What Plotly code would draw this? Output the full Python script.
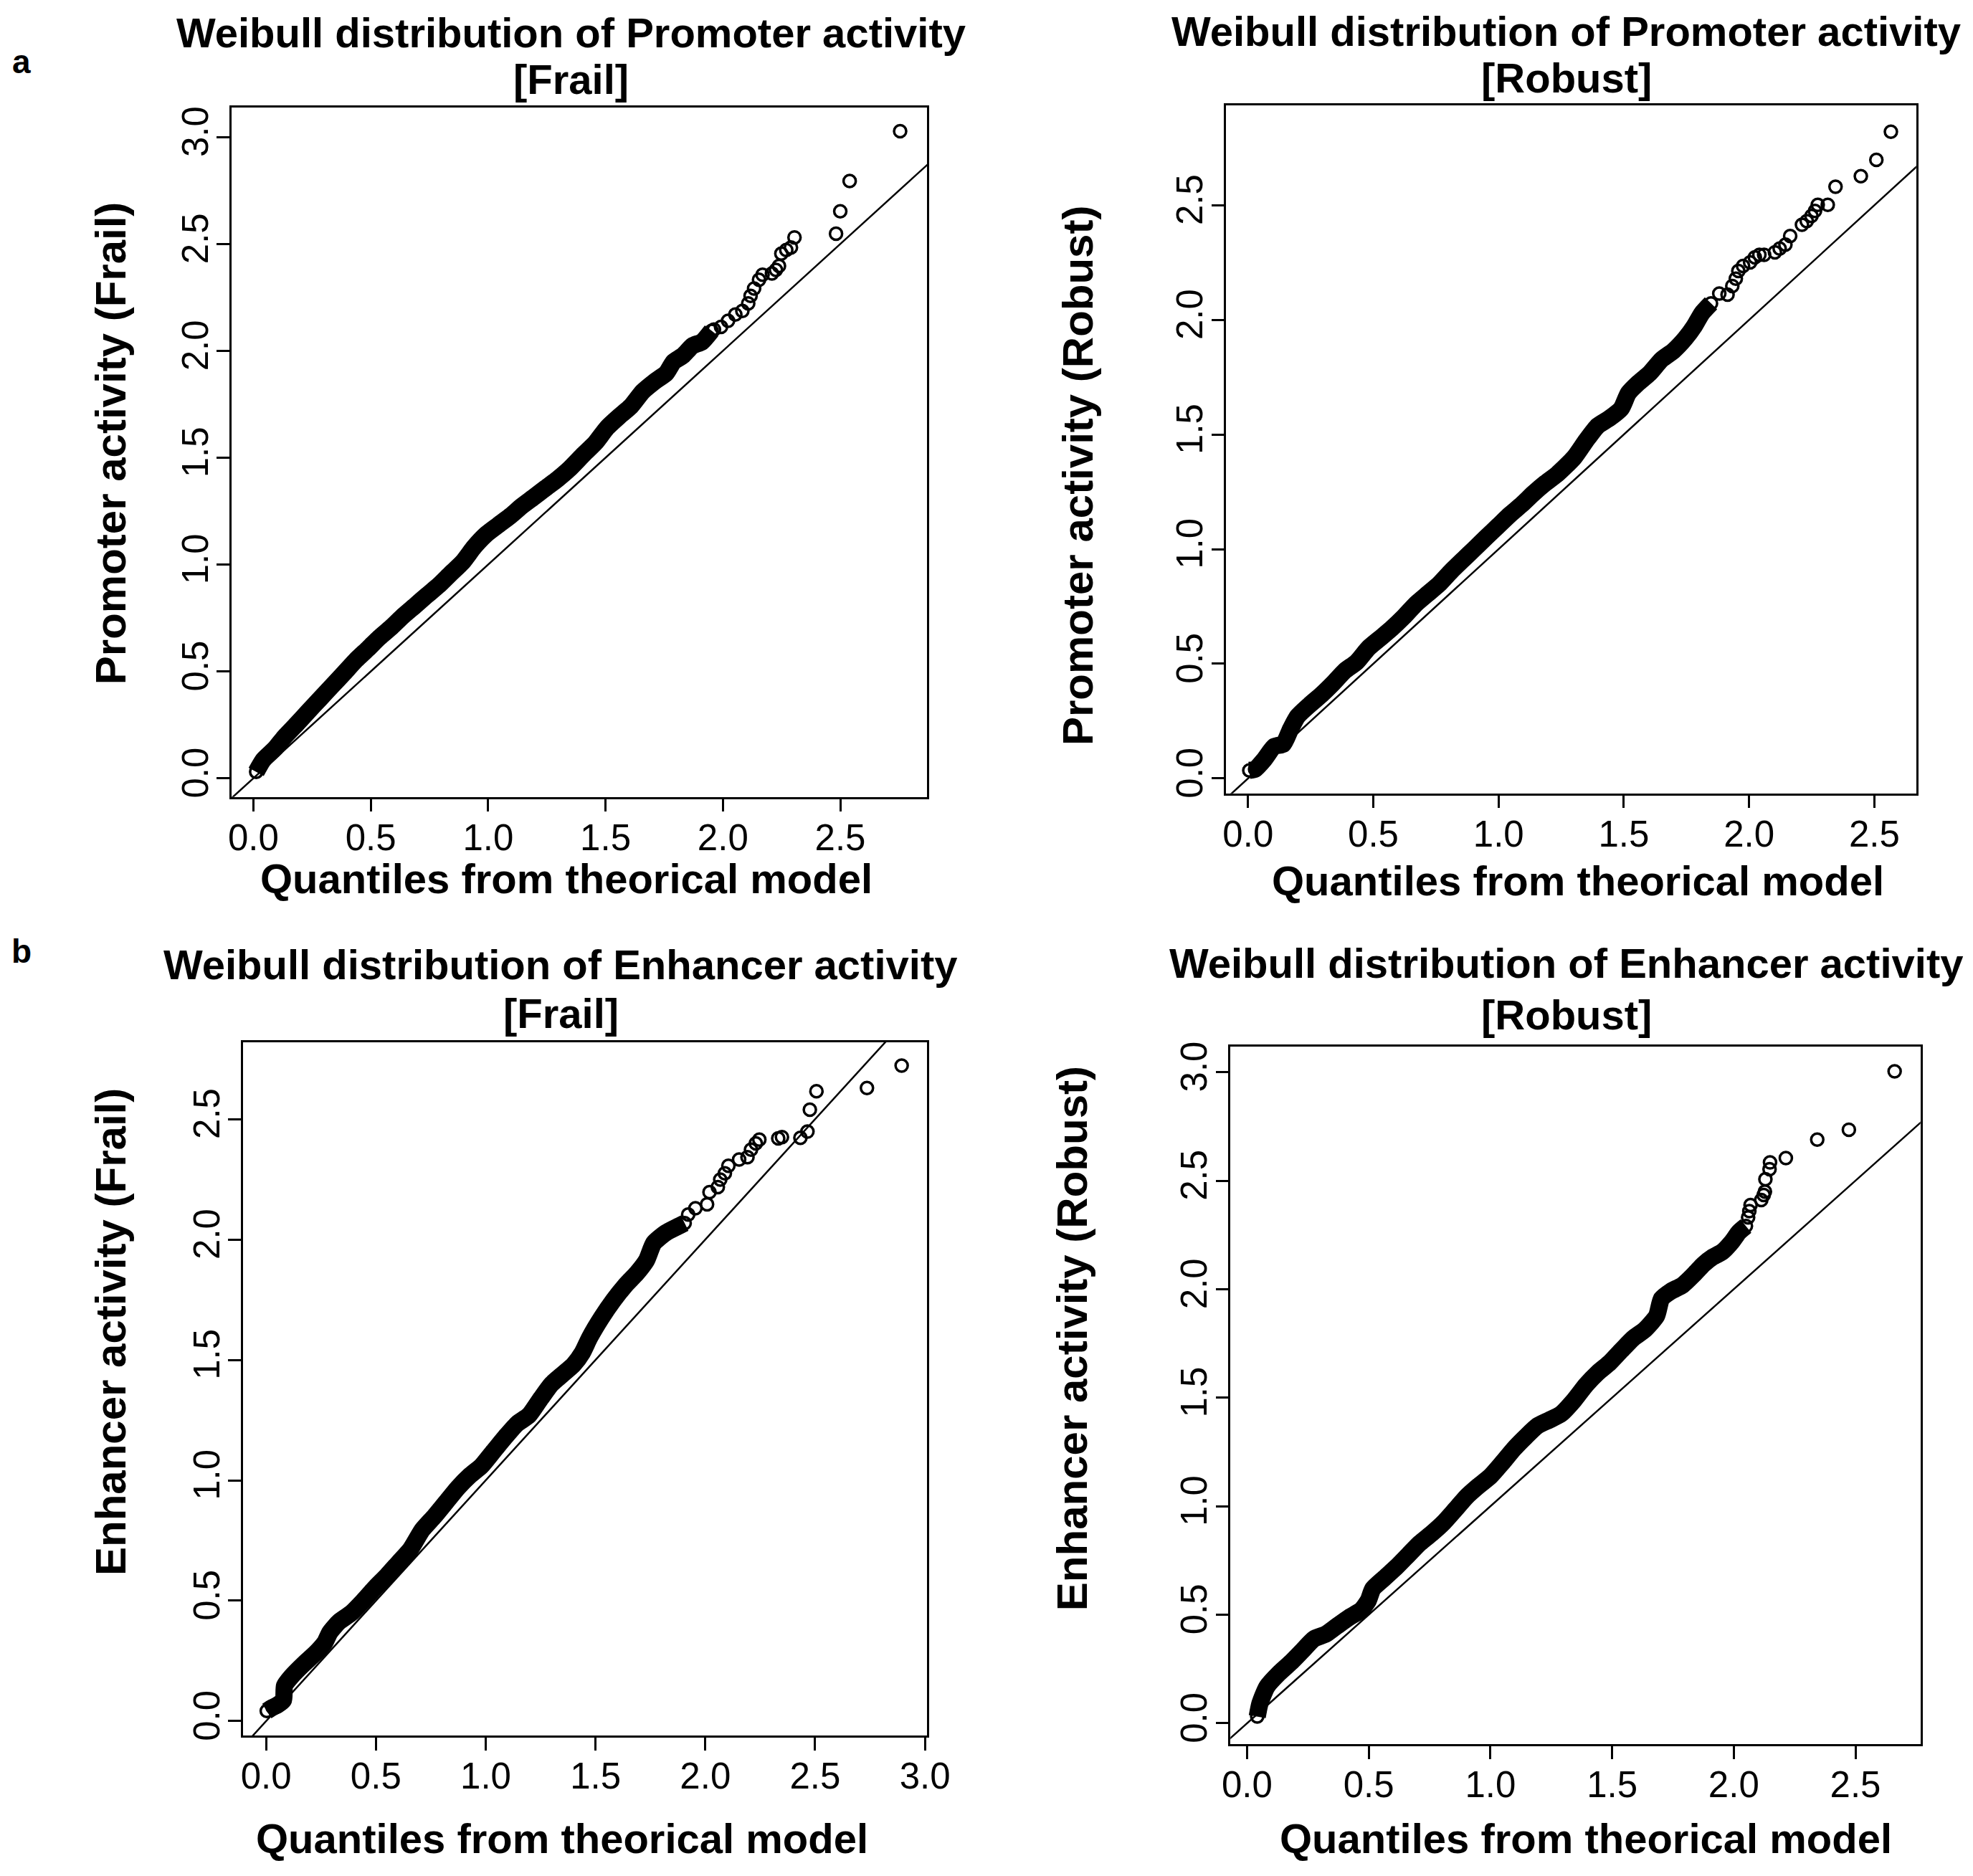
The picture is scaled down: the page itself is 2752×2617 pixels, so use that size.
import plotly.graph_objects as go

# ---------------- data ----------------
# Panel a-left: Promoter activity, Frail
prom_frail_dense_q = [0.012, 0.042, 0.093, 0.133, 0.184, 0.234, 0.285, 0.335, 0.386, 0.436,
                      0.487, 0.537, 0.588, 0.638, 0.689, 0.739, 0.790, 0.840, 0.891, 0.941,
                      0.992, 1.042, 1.093, 1.143, 1.194, 1.244, 1.295, 1.345, 1.406, 1.457,
                      1.507, 1.558, 1.608, 1.658, 1.709, 1.759, 1.790, 1.830, 1.871, 1.911, 1.952]
prom_frail_dense_v = [0.030, 0.086, 0.140, 0.194, 0.253, 0.313, 0.373, 0.432, 0.492, 0.552,
                      0.605, 0.659, 0.707, 0.760, 0.808, 0.856, 0.903, 0.957, 1.011, 1.083,
                      1.142, 1.184, 1.226, 1.273, 1.315, 1.357, 1.399, 1.446, 1.515, 1.570,
                      1.641, 1.693, 1.740, 1.809, 1.856, 1.896, 1.949, 1.978, 2.024, 2.042, 2.094]
prom_frail_tail_q = [1.962, 1.992, 2.022, 2.053, 2.083, 2.108, 2.118, 2.133, 2.154, 2.169,
                     2.209, 2.226, 2.239, 2.249, 2.270, 2.290, 2.305, 2.482, 2.500, 2.540, 2.755]
prom_frail_tail_v = [2.100, 2.112, 2.141, 2.170, 2.187, 2.222, 2.257, 2.292, 2.333, 2.356,
                     2.362, 2.379, 2.397, 2.455, 2.472, 2.484, 2.531, 2.548, 2.653, 2.795, 3.028]

# Panel a-right: Promoter activity, Robust
prom_robust_dense_q = [0.005, 0.028, 0.066, 0.104, 0.141, 0.170, 0.198, 0.245, 0.292, 0.339,
                       0.386, 0.433, 0.480, 0.528, 0.575, 0.622, 0.669, 0.716, 0.763, 0.810,
                       0.857, 0.904, 0.951, 0.998, 1.046, 1.093, 1.140, 1.187, 1.234, 1.302,
                       1.349, 1.396, 1.443, 1.490, 1.518, 1.556, 1.603, 1.651, 1.698, 1.745,
                       1.782, 1.811, 1.848]
prom_robust_dense_v = [0.035, 0.040, 0.084, 0.139, 0.150, 0.216, 0.271, 0.320, 0.364, 0.414,
                       0.469, 0.507, 0.568, 0.612, 0.656, 0.705, 0.760, 0.804, 0.848, 0.903,
                       0.953, 1.002, 1.052, 1.101, 1.151, 1.195, 1.244, 1.288, 1.327, 1.400,
                       1.473, 1.538, 1.571, 1.614, 1.680, 1.723, 1.767, 1.827, 1.865, 1.919,
                       1.974, 2.028, 2.072]
prom_robust_tail_q = [1.881, 1.914, 1.933, 1.947, 1.957, 1.976, 2.004, 2.023, 2.041, 2.060,
                      2.103, 2.122, 2.145, 2.164, 2.211, 2.230, 2.249, 2.263, 2.274, 2.314,
                      2.345, 2.446, 2.508, 2.566]
prom_robust_tail_v = [2.115, 2.110, 2.148, 2.180, 2.213, 2.235, 2.251, 2.273, 2.284, 2.284,
                      2.295, 2.311, 2.328, 2.366, 2.415, 2.431, 2.453, 2.475, 2.502, 2.502,
                      2.581, 2.627, 2.698, 2.821]

# Panel b-left: Enhancer activity, Frail
enh_frail_dense_q = [0.003, 0.030, 0.052, 0.079, 0.084, 0.117, 0.171, 0.225, 0.268, 0.290,
                     0.333, 0.387, 0.441, 0.495, 0.549, 0.603, 0.657, 0.711, 0.765, 0.819,
                     0.873, 0.927, 0.981, 1.035, 1.089, 1.143, 1.197, 1.251, 1.300, 1.350,
                     1.400, 1.440, 1.473, 1.527, 1.581, 1.635, 1.689, 1.732, 1.765, 1.819,
                     1.873, 1.906]
enh_frail_dense_v = [0.042, 0.057, 0.067, 0.087, 0.147, 0.187, 0.237, 0.282, 0.327, 0.368,
                     0.413, 0.448, 0.498, 0.553, 0.603, 0.658, 0.713, 0.794, 0.849, 0.909,
                     0.969, 1.019, 1.060, 1.120, 1.180, 1.235, 1.270, 1.340, 1.400, 1.440,
                     1.480, 1.530, 1.592, 1.675, 1.747, 1.809, 1.861, 1.913, 1.985, 2.027,
                     2.053, 2.068]
enh_frail_tail_q = [1.922, 1.955, 2.008, 2.019, 2.057, 2.068, 2.089, 2.105, 2.154, 2.192,
                    2.208, 2.230, 2.246, 2.332, 2.349, 2.433, 2.465, 2.476, 2.506, 2.736, 2.894]
enh_frail_tail_v = [2.104, 2.130, 2.146, 2.197, 2.218, 2.249, 2.275, 2.306, 2.332, 2.342,
                    2.373, 2.399, 2.415, 2.420, 2.425, 2.422, 2.448, 2.539, 2.616, 2.629, 2.722]

# Panel b-right: Enhancer activity, Robust
enh_robust_dense_q = [0.042, 0.053, 0.082, 0.130, 0.179, 0.227, 0.275, 0.324, 0.372, 0.420,
                      0.469, 0.498, 0.517, 0.565, 0.614, 0.662, 0.710, 0.758, 0.807, 0.855,
                      0.903, 0.952, 1.000, 1.048, 1.097, 1.145, 1.193, 1.242, 1.290, 1.345,
                      1.393, 1.441, 1.490, 1.538, 1.587, 1.635, 1.683, 1.703, 1.741, 1.790,
                      1.838, 1.876, 1.915, 1.953, 1.992, 2.021, 2.050]
enh_robust_dense_v = [0.031, 0.091, 0.169, 0.229, 0.279, 0.334, 0.389, 0.411, 0.450, 0.488,
                      0.521, 0.565, 0.620, 0.670, 0.720, 0.775, 0.830, 0.874, 0.924, 0.984,
                      1.045, 1.094, 1.138, 1.199, 1.265, 1.320, 1.370, 1.397, 1.425, 1.490,
                      1.559, 1.615, 1.661, 1.718, 1.774, 1.814, 1.877, 1.956, 1.990, 2.019,
                      2.070, 2.115, 2.149, 2.172, 2.218, 2.263, 2.291]
enh_robust_tail_q = [2.059, 2.064, 2.069, 2.113, 2.123, 2.128, 2.130, 2.147, 2.149, 2.214,
                     2.343, 2.473, 2.661]
enh_robust_tail_v = [2.331, 2.360, 2.388, 2.411, 2.434, 2.450, 2.507, 2.553, 2.584, 2.604,
                     2.689, 2.735, 3.004]

# axis ranges and ticks
prom_frail_xrange = [-0.093, 2.870]
prom_frail_yrange = [-0.087, 3.138]
prom_robust_xrange = [-0.087, 2.667]
prom_robust_yrange = [-0.065, 2.935]
enh_frail_xrange = [-0.106, 3.010]
enh_frail_yrange = [-0.060, 2.820]
enh_robust_xrange = [-0.068, 2.767]
enh_robust_yrange = [-0.096, 3.119]

ticks_to_25 = [0.0, 0.5, 1.0, 1.5, 2.0, 2.5]
ticks_to_30 = [0.0, 0.5, 1.0, 1.5, 2.0, 2.5, 3.0]

titles = ["Weibull distribution of Promoter activity", "Weibull distribution of Promoter activity",
          "Weibull distribution of Enhancer activity", "Weibull distribution of Enhancer activity"]
subtitles = ["[Frail]", "[Robust]", "[Frail]", "[Robust]"]
ylabels = ["Promoter activity (Frail)", "Promoter activity (Robust)",
           "Enhancer activity (Frail)", "Enhancer activity (Robust)"]
xlabel = "Quantiles from theorical model"
panel_letters = ["a", "b"]

# ---------------- layout geometry (pixels) ----------------
W, H = 2752, 2617
FONT = "Liberation Sans, Arial, Helvetica, sans-serif"

panels = [
    dict(dq=prom_frail_dense_q, dv=prom_frail_dense_v, tq=prom_frail_tail_q, tv=prom_frail_tail_v,
         xr=prom_frail_xrange, yr=prom_frail_yrange, xt=ticks_to_25, yt=ticks_to_30,
         box=(316, 1302, 144, 1111), t1=(797, 39), t2=(797, 104), xl=(791, 1226), yl=(145, 615)),
    dict(dq=prom_robust_dense_q, dv=prom_robust_dense_v, tq=prom_robust_tail_q, tv=prom_robust_tail_v,
         xr=prom_robust_xrange, yr=prom_robust_yrange, xt=ticks_to_25, yt=ticks_to_25,
         box=(1726, 2704, 141, 1106), t1=(2208, 37), t2=(2208, 102), xl=(2225, 1229), yl=(1515, 660)),
    dict(dq=enh_frail_dense_q, dv=enh_frail_dense_v, tq=enh_frail_tail_q, tv=enh_frail_tail_v,
         xr=enh_frail_xrange, yr=enh_frail_yrange, xt=ticks_to_30, yt=ticks_to_25,
         box=(332, 1302, 1455, 2428), t1=(783, 1346), t2=(783, 1415), xl=(785, 2572), yl=(145, 1862)),
    dict(dq=enh_robust_dense_q, dv=enh_robust_dense_v, tq=enh_robust_tail_q, tv=enh_robust_tail_v,
         xr=enh_robust_xrange, yr=enh_robust_yrange, xt=ticks_to_25, yt=ticks_to_30,
         box=(1732, 2710, 1461, 2440), t1=(2208, 1344), t2=(2208, 1417), xl=(2236, 2572), yl=(1507, 1871)),
]
letter_pos = [(18, 79), (18, 1328)]

fig = go.Figure()
layout = dict(width=W, height=H, autosize=False, margin=dict(l=0, r=0, t=0, b=0),
              paper_bgcolor="white", plot_bgcolor="white", showlegend=False,
              font=dict(family=FONT, color="black"))
annotations = []


def px(x):
    return x / W


def py(y):
    return 1 - y / H


for i, p in enumerate(panels):
    n = i + 1
    xa = "x" if n == 1 else f"x{n}"
    ya = "y" if n == 1 else f"y{n}"
    l, r, t, b = p["box"]
    common = dict(showline=True, mirror=True, linecolor="black", linewidth=2.5,
                  ticks="outside", ticklen=18, tickwidth=2.5, tickcolor="black",
                  showgrid=False, zeroline=False, tickformat=".1f",
                  tickfont=dict(family=FONT, size=51, color="black"))
    layout[f"xaxis{'' if n == 1 else n}"] = dict(
        domain=[px(l), px(r)], range=p["xr"], tickvals=p["xt"], anchor=ya,
        ticklabelstandoff=-8, **common)
    layout[f"yaxis{'' if n == 1 else n}"] = dict(
        domain=[py(b), py(t)], range=p["yr"], tickvals=p["yt"], anchor=xa,
        tickangle=-90, ticklabelstandoff=-8, **common)

    # dense part of the Q-Q cloud (overlapping circles form a solid band)
    fig.add_trace(go.Scatter(x=p["dq"], y=p["dv"], mode="lines", xaxis=xa, yaxis=ya,
                             line=dict(color="black", width=24, shape="spline", smoothing=0.6),
                             hoverinfo="skip"))
    # individual open circles
    fig.add_trace(go.Scatter(x=p["dq"] + p["tq"], y=p["dv"] + p["tv"], mode="markers",
                             xaxis=xa, yaxis=ya,
                             marker=dict(symbol="circle-open", size=17, color="black",
                                         line=dict(width=3.5, color="black"))))
    # reference line y = x (abline(0, 1)) spanning the axis ranges
    lo = min(p["xr"][0], p["yr"][0])
    hi = max(p["xr"][1], p["yr"][1])
    fig.add_trace(go.Scatter(x=[lo, hi], y=[lo, hi], mode="lines", xaxis=xa, yaxis=ya,
                             line=dict(color="black", width=2.5), hoverinfo="skip"))

    bold = dict(family=FONT, size=58, color="black")
    annotations.append(dict(text=f"<b>{titles[i]}</b>", x=px(p["t1"][0]), y=py(p["t1"][1]),
                            xref="paper", yref="paper", xanchor="center", yanchor="middle",
                            showarrow=False, font=bold))
    annotations.append(dict(text=f"<b>{subtitles[i]}</b>", x=px(p["t2"][0]), y=py(p["t2"][1]),
                            xref="paper", yref="paper", xanchor="center", yanchor="middle",
                            showarrow=False, font=bold))
    annotations.append(dict(text=f"<b>{xlabel}</b>", x=px(p["xl"][0]), y=py(p["xl"][1]),
                            xref="paper", yref="paper", xanchor="center", yanchor="middle",
                            showarrow=False, font=bold))
    annotations.append(dict(text=f"<b>{ylabels[i]}</b>", x=px(p["yl"][0]), y=py(p["yl"][1]),
                            xref="paper", yref="paper", xanchor="center", yanchor="middle",
                            textangle=-90, showarrow=False, font=dict(family=FONT, size=60, color="black")))

for letter, (lx, ly) in zip(panel_letters, letter_pos):
    annotations.append(dict(text=f"<b>{letter}</b>", x=px(lx), y=py(ly), xref="paper", yref="paper",
                            xanchor="center", yanchor="middle", showarrow=False,
                            font=dict(family=FONT, size=46, color="black")))

layout["annotations"] = annotations
fig.update_layout(**layout)
fig.write_html("out.html")
